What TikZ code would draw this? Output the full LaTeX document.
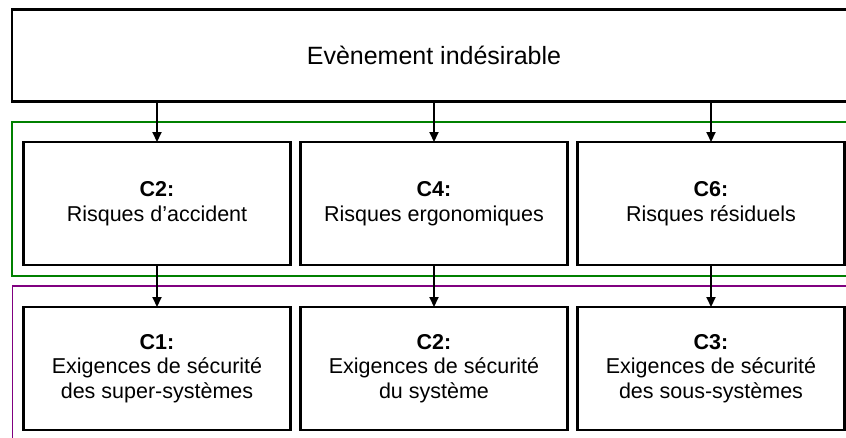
\documentclass[tikz,border=0pt]{standalone}
\usepackage{fontspec}
\setmainfont{Liberation Sans}
\usetikzlibrary{positioning,arrows.meta}
\definecolor{riskgreen}{RGB}{0,128,0}
\definecolor{reqpurple}{RGB}{128,0,128}

\begin{document}
\begin{tikzpicture}[
x=1pt, y=-1pt,
node distance=40.5pt and 10pt,
box/.style={rectangle, draw=black, fill=white, line width=2.6pt, outer sep=0pt, inner sep=0pt, align=center, minimum width=267pt, minimum height=123pt, font=\fontsize{21.5}{24.5}\selectfont},
arrow/.style={-{Triangle[length=10pt,width=9pt]}, line width=2pt},
frame/.style={line width=1.8pt}
]

\useasboundingbox (0,0) rectangle (846,437);
\clip (0,0) rectangle (846,437);

% frames behind the boxes
\draw[frame, draw=riskgreen] (12,122) rectangle (856,276);
\draw[frame, draw=reqpurple] (12.5,286) rectangle (856,450);

\node[box, minimum width=844pt, minimum height=92pt, font=\fontsize{25}{30}\selectfont] (event) at (434,55.5) {Evènement indésirable};

\node[box, below=of event] (ergo) {\textbf{C4:}\\Risques ergonomiques};
\node[box, left=of ergo] (accident) {\textbf{C2:}\\Risques d’accident};
\node[box, right=of ergo] (residual) {\textbf{C6:}\\Risques résiduels};

\node[box, below=42pt of accident] (supersys) {\textbf{C1:}\\Exigences de sécurité\\des super-systèmes};
\node[box, below=42pt of ergo] (system) {\textbf{C2:}\\Exigences de sécurité\\du système};
\node[box, below=42pt of residual] (subsys) {\textbf{C3:}\\Exigences de sécurité\\des sous-systèmes};


\draw[arrow] (accident.north |- event.south) -- (accident);
\draw[arrow] (ergo.north |- event.south) -- (ergo);
\draw[arrow] (residual.north |- event.south) -- (residual);
\draw[arrow] (accident) -- (supersys);
\draw[arrow] (ergo) -- (system);
\draw[arrow] (residual) -- (subsys);

\end{tikzpicture}
\end{document}
